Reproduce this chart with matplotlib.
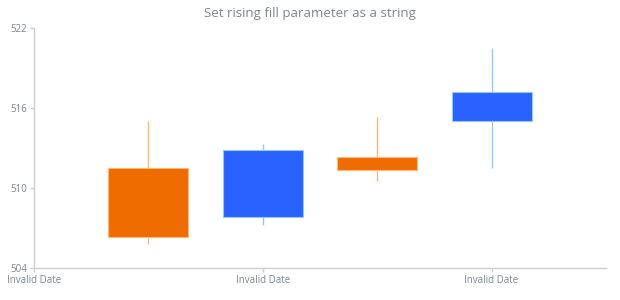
import matplotlib.pyplot as plt
import matplotlib as mpl

mpl.rcParams["font.family"] = ["Open Sans", "DejaVu Sans"]

# 데이터
positions = [1, 2, 3, 4]
opens = [511.5, 507.8, 512.35, 515.05]
closes = [506.3, 512.85, 511.35, 517.2]
highs = [515.0, 513.3, 515.35, 520.5]
lows = [505.8, 507.2, 510.55, 511.5]
tick_pos = [0, 2, 4]
tick_labels = ["Invalid Date", "Invalid Date", "Invalid Date"]
y_ticks = [504, 510, 516, 522]

RISE_FILL = "#2962FF"
RISE_LINE = "#90CAF9"
FALL_FILL = "#EF6C00"
FALL_LINE = "#FFB77D"
AXIS_C = "#CECECE"
TEXT_C = "#7C868E"

fig = plt.figure(figsize=(6.2, 3.0), dpi=100)
ax = fig.add_axes([34 / 620, 32 / 300, 572 / 620, 240 / 300])

width = 0.7
for x, o, c, h, l in zip(positions, opens, closes, highs, lows):
    rising = c >= o
    fill = RISE_FILL if rising else FALL_FILL
    line = RISE_LINE if rising else FALL_LINE
    ax.vlines(x, l, h, color=line, linewidth=1, zorder=1)
    ax.bar(x, abs(c - o), width, bottom=min(o, c), color=fill,
           edgecolor=line, linewidth=0.8, zorder=2)

ax.set_xlim(0, 5)
ax.set_ylim(504, 522)
ax.set_yticks(y_ticks)
ax.set_xticks(tick_pos)
ax.set_xticklabels(tick_labels)

for s in ["top", "right"]:
    ax.spines[s].set_visible(False)
for s in ["left", "bottom"]:
    ax.spines[s].set_color(AXIS_C)
    ax.spines[s].set_linewidth(1)

ax.tick_params(axis="both", colors=AXIS_C, labelcolor=TEXT_C, labelsize=7,
               length=3, width=1, pad=2)

fig.text(0.5, 0.955, "Set rising fill parameter as a string", ha="center",
         va="center", fontsize=9.5, color=TEXT_C)

fig.savefig("out.png", dpi=100)
